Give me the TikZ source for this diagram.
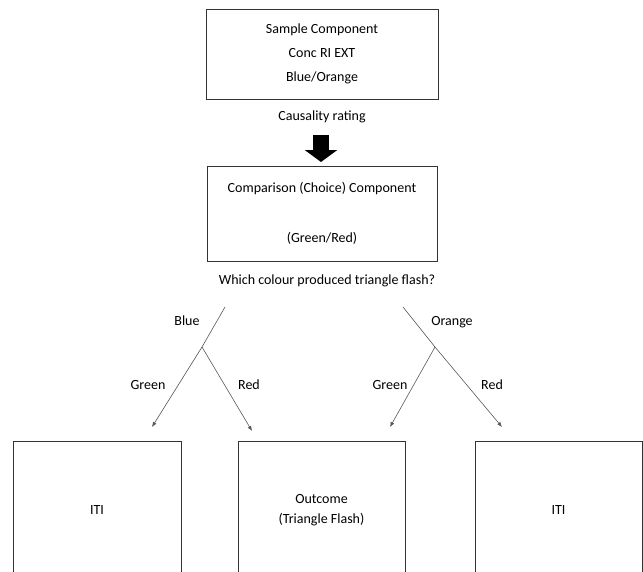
\documentclass[tikz,border=0pt]{standalone}
\usepackage{fontspec}
\setmainfont{Carlito}
\usetikzlibrary{arrows.meta}
\begin{document}
\begin{tikzpicture}[x=1pt,y=-1pt,
  box/.style={draw=black!80, line width=0.8pt, inner sep=0pt, align=center,
    text=black, font=\fontsize{14}{24}\selectfont},
  lbl/.style={text=black, font=\fontsize{14}{17}\selectfont, inner sep=1pt},
  conn/.style={draw=black!65, line width=0.6pt},
  arr/.style={conn, -{Latex[length=5pt,width=4pt]}},
  bigarrow/.style={draw=black, line width=16pt, -{Triangle[length=12pt,width=32pt]}},
]
\useasboundingbox (0,0) rectangle (643,571);
\fill[white] (0,0) rectangle (643,571);
\clip (0,0) rectangle (643,571);

% upper boxes
\node[box, minimum width=232pt, minimum height=90pt] (sample) at (322,54)
  {Sample Component\\Conc RI EXT\\Blue/Orange};
\node[lbl] (caus) at (322,117) {Causality rating};
\node[box, minimum width=230pt, minimum height=95pt, font=\fontsize{14}{25}\selectfont] (comp) at (322,213.5)
  {Comparison (Choice) Component\\ \\(Green/Red)};
\node[lbl] (which) at (327,281) {Which colour produced triangle flash?};

% thick arrow
\coordinate (ta) at (321,135);
\coordinate (tb) at (321,162);
\draw[bigarrow] (ta) -- (tb);

% bottom boxes (run past the lower edge)
\node[box, minimum width=168pt, minimum height=139pt] (iti1) at (97,510.5) {ITI};
\node[box, minimum width=167pt, minimum height=139pt, font=\fontsize{14}{20}\selectfont] (outc) at (321.5,510.5)
  {Outcome\\(Triangle Flash)};
\node[box, minimum width=167pt, minimum height=139pt] (iti2) at (558.5,510.5) {ITI};

% branching connectors
\coordinate (bt) at (225,307);
\coordinate (bj) at (202,347);
\coordinate (bg) at (152,427);
\coordinate (br) at (252,431);
\coordinate (ot) at (403,307);
\coordinate (oj) at (435,347);
\coordinate (og) at (390,427);
\coordinate (or) at (502,427);

\draw[conn] (bt) -- (bj);
\draw[arr] (bj) -- (bg);
\draw[arr] (bj) -- (br);
\draw[conn] (ot) -- (oj);
\draw[arr] (oj) -- (og);
\draw[arr] (oj) -- (or);

\node[lbl] (lblue) at (187,321) {Blue};
\node[lbl] (lgreen1) at (148,385) {Green};
\node[lbl] (lred1) at (249,385) {Red};
\node[lbl] (lorange) at (452,322) {Orange};
\node[lbl] (lgreen2) at (390,385) {Green};
\node[lbl] (lred2) at (492,385) {Red};
\end{tikzpicture}
\end{document}
